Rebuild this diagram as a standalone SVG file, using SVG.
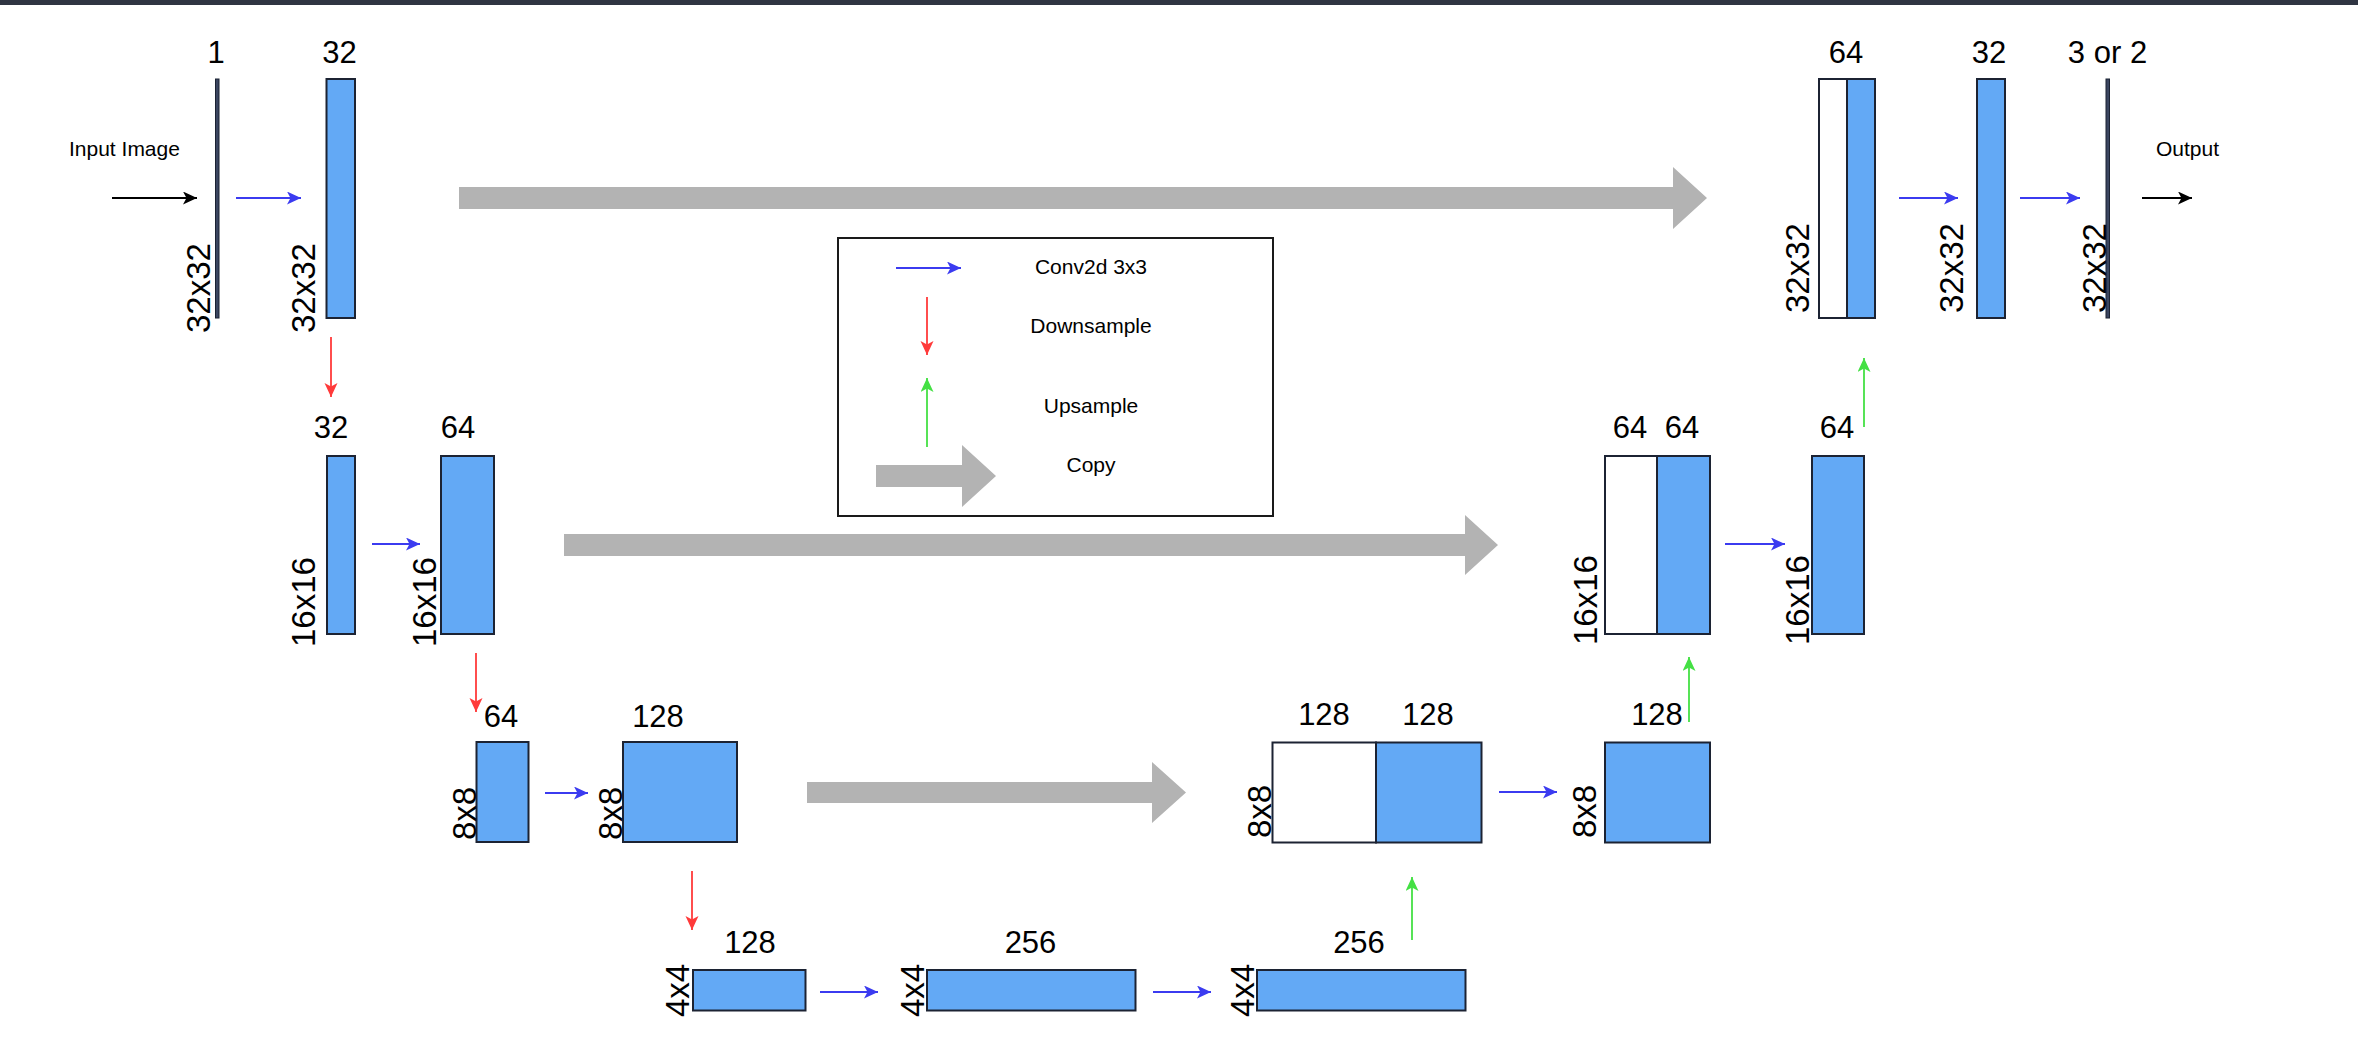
<svg xmlns="http://www.w3.org/2000/svg" width="2358" height="1042" viewBox="0 0 2358 1042">
<style>
text{font-family:"Liberation Sans",Arial,Helvetica,sans-serif;fill:#000}
.n{font-size:31px;text-anchor:middle}
.r{font-size:33px;text-anchor:start}
.s{font-size:21px}
.lg{font-size:21px;text-anchor:middle}
.b{fill:#63A9F5;stroke:#1c2333;stroke-width:2}
.w{fill:#fff;stroke:#1c2333;stroke-width:2}
.t{fill:#3a4560;stroke:#1b2233;stroke-width:1}
.cp{fill:#b3b3b3}
.cb{stroke:#3b3bf0;stroke-width:1.8;fill:none}
.cr{stroke:#ff3a3a;stroke-width:1.8;fill:none}
.cg{stroke:#44e044;stroke-width:1.8;fill:none}
.ck{stroke:#000;stroke-width:1.8;fill:none}
</style>
<defs>
<marker id="mb" markerUnits="userSpaceOnUse" markerWidth="16" markerHeight="14" refX="14" refY="6.5" orient="auto"><path d="M0,0 L14,6.5 L0,13 L3.5,6.5 Z" fill="#3b3bf0"/></marker>
<marker id="mr" markerUnits="userSpaceOnUse" markerWidth="16" markerHeight="14" refX="14" refY="6.5" orient="auto"><path d="M0,0 L14,6.5 L0,13 L3.5,6.5 Z" fill="#ff3a3a"/></marker>
<marker id="mg" markerUnits="userSpaceOnUse" markerWidth="16" markerHeight="14" refX="14" refY="6.5" orient="auto"><path d="M0,0 L14,6.5 L0,13 L3.5,6.5 Z" fill="#44e044"/></marker>
<marker id="mk" markerUnits="userSpaceOnUse" markerWidth="16" markerHeight="14" refX="14" refY="6.5" orient="auto"><path d="M0,0 L14,6.5 L0,13 L3.5,6.5 Z" fill="#000"/></marker>
</defs>
<rect x="0" y="0" width="2358" height="1042" fill="#fff"/>
<rect x="0" y="0" width="2358" height="5" fill="#2f3542"/>

<g id="input-label"><text class="s" x="69" y="156">Input Image</text></g>
<g id="output-label"><text class="s" x="2156" y="156">Output</text></g>

<!-- Row 1 -->
<g id="in-1">
<rect class="t" x="215.5" y="79" width="3.5" height="239"/>
<text class="n" x="216" y="63">1</text>
<text class="r" transform="translate(210,333) rotate(-90)">32x32</text>
</g>
<g id="enc1-32">
<rect class="b" x="326.5" y="79" width="28.5" height="239"/>
<text class="n" x="339.5" y="63">32</text>
<text class="r" transform="translate(315,333) rotate(-90)">32x32</text>
</g>
<g id="dec1-64">
<rect class="w" x="1819" y="79" width="28" height="239"/>
<rect class="b" x="1847" y="79" width="28" height="239"/>
<text class="n" x="1846" y="63">64</text>
<text class="r" transform="translate(1809,313) rotate(-90)">32x32</text>
</g>
<g id="dec1-32">
<rect class="b" x="1977" y="79" width="28" height="239"/>
<text class="n" x="1989" y="63">32</text>
<text class="r" transform="translate(1963,313) rotate(-90)">32x32</text>
</g>
<g id="out-3or2">
<rect class="t" x="2106" y="79" width="3.5" height="239"/>
<text class="n" x="2107.5" y="63">3 or 2</text>
<text class="r" transform="translate(2106,313) rotate(-90)">32x32</text>
</g>

<!-- Row 2 -->
<g id="enc2-32">
<rect class="b" x="327" y="456" width="28" height="178"/>
<text class="n" x="331" y="438">32</text>
<text class="r" transform="translate(315,647) rotate(-90)">16x16</text>
</g>
<g id="enc2-64">
<rect class="b" x="441" y="456" width="53" height="178"/>
<text class="n" x="458" y="438">64</text>
<text class="r" transform="translate(436,647) rotate(-90)">16x16</text>
</g>
<g id="dec2-concat">
<rect class="w" x="1605" y="456" width="52" height="178"/>
<rect class="b" x="1657" y="456" width="53" height="178"/>
<text class="n" x="1630" y="438">64</text>
<text class="n" x="1682" y="438">64</text>
<text class="r" transform="translate(1597,645) rotate(-90)">16x16</text>
</g>
<g id="dec2-64">
<rect class="b" x="1812" y="456" width="52" height="178"/>
<text class="n" x="1837" y="438">64</text>
<text class="r" transform="translate(1809,645) rotate(-90)">16x16</text>
</g>

<!-- Row 3 -->
<g id="enc3-64">
<rect class="b" x="476.5" y="742" width="52" height="100"/>
<text class="n" x="501" y="727">64</text>
<text class="r" transform="translate(476,840) rotate(-90)">8x8</text>
</g>
<g id="enc3-128">
<rect class="b" x="623" y="742" width="114" height="100"/>
<text class="n" x="658" y="727">128</text>
<text class="r" transform="translate(622,840) rotate(-90)">8x8</text>
</g>
<g id="dec3-concat">
<rect class="w" x="1272.5" y="742.5" width="103.5" height="100"/>
<rect class="b" x="1376" y="742.5" width="105.5" height="100"/>
<text class="n" x="1324" y="725">128</text>
<text class="n" x="1428" y="725">128</text>
<text class="r" transform="translate(1271,838) rotate(-90)">8x8</text>
</g>
<g id="dec3-128">
<rect class="b" x="1605" y="742.5" width="105" height="100"/>
<text class="n" x="1657" y="725">128</text>
<text class="r" transform="translate(1596,838) rotate(-90)">8x8</text>
</g>

<!-- Row 4 -->
<g id="bot-128">
<rect class="b" x="693" y="970" width="112.5" height="40.5"/>
<text class="n" x="750" y="953">128</text>
<text class="r" transform="translate(689,1017) rotate(-90)">4x4</text>
</g>
<g id="bot-256a">
<rect class="b" x="927" y="970" width="208.5" height="40.5"/>
<text class="n" x="1030.5" y="953">256</text>
<text class="r" transform="translate(924,1017) rotate(-90)">4x4</text>
</g>
<g id="bot-256b">
<rect class="b" x="1257" y="970" width="208.5" height="40.5"/>
<text class="n" x="1359" y="953">256</text>
<text class="r" transform="translate(1254,1017) rotate(-90)">4x4</text>
</g>

<!-- Legend -->
<g id="legend">
<rect x="838" y="238" width="435" height="278" fill="#fff" stroke="#1a1a1a" stroke-width="2"/>
<line class="cb" x1="896" y1="268" x2="961" y2="268" marker-end="url(#mb)"/>
<line class="cr" x1="927" y1="297" x2="927" y2="355" marker-end="url(#mr)"/>
<line class="cg" x1="927" y1="447" x2="927" y2="378" marker-end="url(#mg)"/>
<path class="cp" d="M876,465 H962 V445 L996,476 L962,507 V487 H876 Z"/>
<text class="lg" x="1091" y="274">Conv2d 3x3</text>
<text class="lg" x="1091" y="333">Downsample</text>
<text class="lg" x="1091" y="413">Upsample</text>
<text class="lg" x="1091" y="472">Copy</text>
</g>

<!-- Connectors -->
<g id="connectors">
<path class="cp" d="M459,187 H1673 V167 L1707,198 L1673,229 V209 H459 Z"/>
<path class="cp" d="M564,534 H1465 V515 L1498,545 L1465,575 V556 H564 Z"/>
<path class="cp" d="M807,782 H1152 V762 L1186,792.5 L1152,823 V803 H807 Z"/>

<line class="ck" x1="112" y1="198" x2="197" y2="198" marker-end="url(#mk)"/>
<line class="ck" x1="2142" y1="198" x2="2192" y2="198" marker-end="url(#mk)"/>

<line class="cb" x1="236" y1="198" x2="301" y2="198" marker-end="url(#mb)"/>
<line class="cb" x1="1899" y1="198" x2="1958" y2="198" marker-end="url(#mb)"/>
<line class="cb" x1="2020" y1="198" x2="2080" y2="198" marker-end="url(#mb)"/>
<line class="cb" x1="372" y1="544" x2="420" y2="544" marker-end="url(#mb)"/>
<line class="cb" x1="1725" y1="544" x2="1785" y2="544" marker-end="url(#mb)"/>
<line class="cb" x1="545" y1="793" x2="588" y2="793" marker-end="url(#mb)"/>
<line class="cb" x1="1499" y1="792" x2="1557" y2="792" marker-end="url(#mb)"/>
<line class="cb" x1="820" y1="992" x2="878" y2="992" marker-end="url(#mb)"/>
<line class="cb" x1="1153" y1="992" x2="1211" y2="992" marker-end="url(#mb)"/>

<line class="cr" x1="331" y1="337" x2="331" y2="397" marker-end="url(#mr)"/>
<line class="cr" x1="476" y1="653" x2="476" y2="712" marker-end="url(#mr)"/>
<line class="cr" x1="692" y1="871" x2="692" y2="930" marker-end="url(#mr)"/>

<line class="cg" x1="1412" y1="940" x2="1412" y2="877" marker-end="url(#mg)"/>
<line class="cg" x1="1689" y1="722" x2="1689" y2="657" marker-end="url(#mg)"/>
<line class="cg" x1="1864" y1="427" x2="1864" y2="358" marker-end="url(#mg)"/>
</g>
</svg>
